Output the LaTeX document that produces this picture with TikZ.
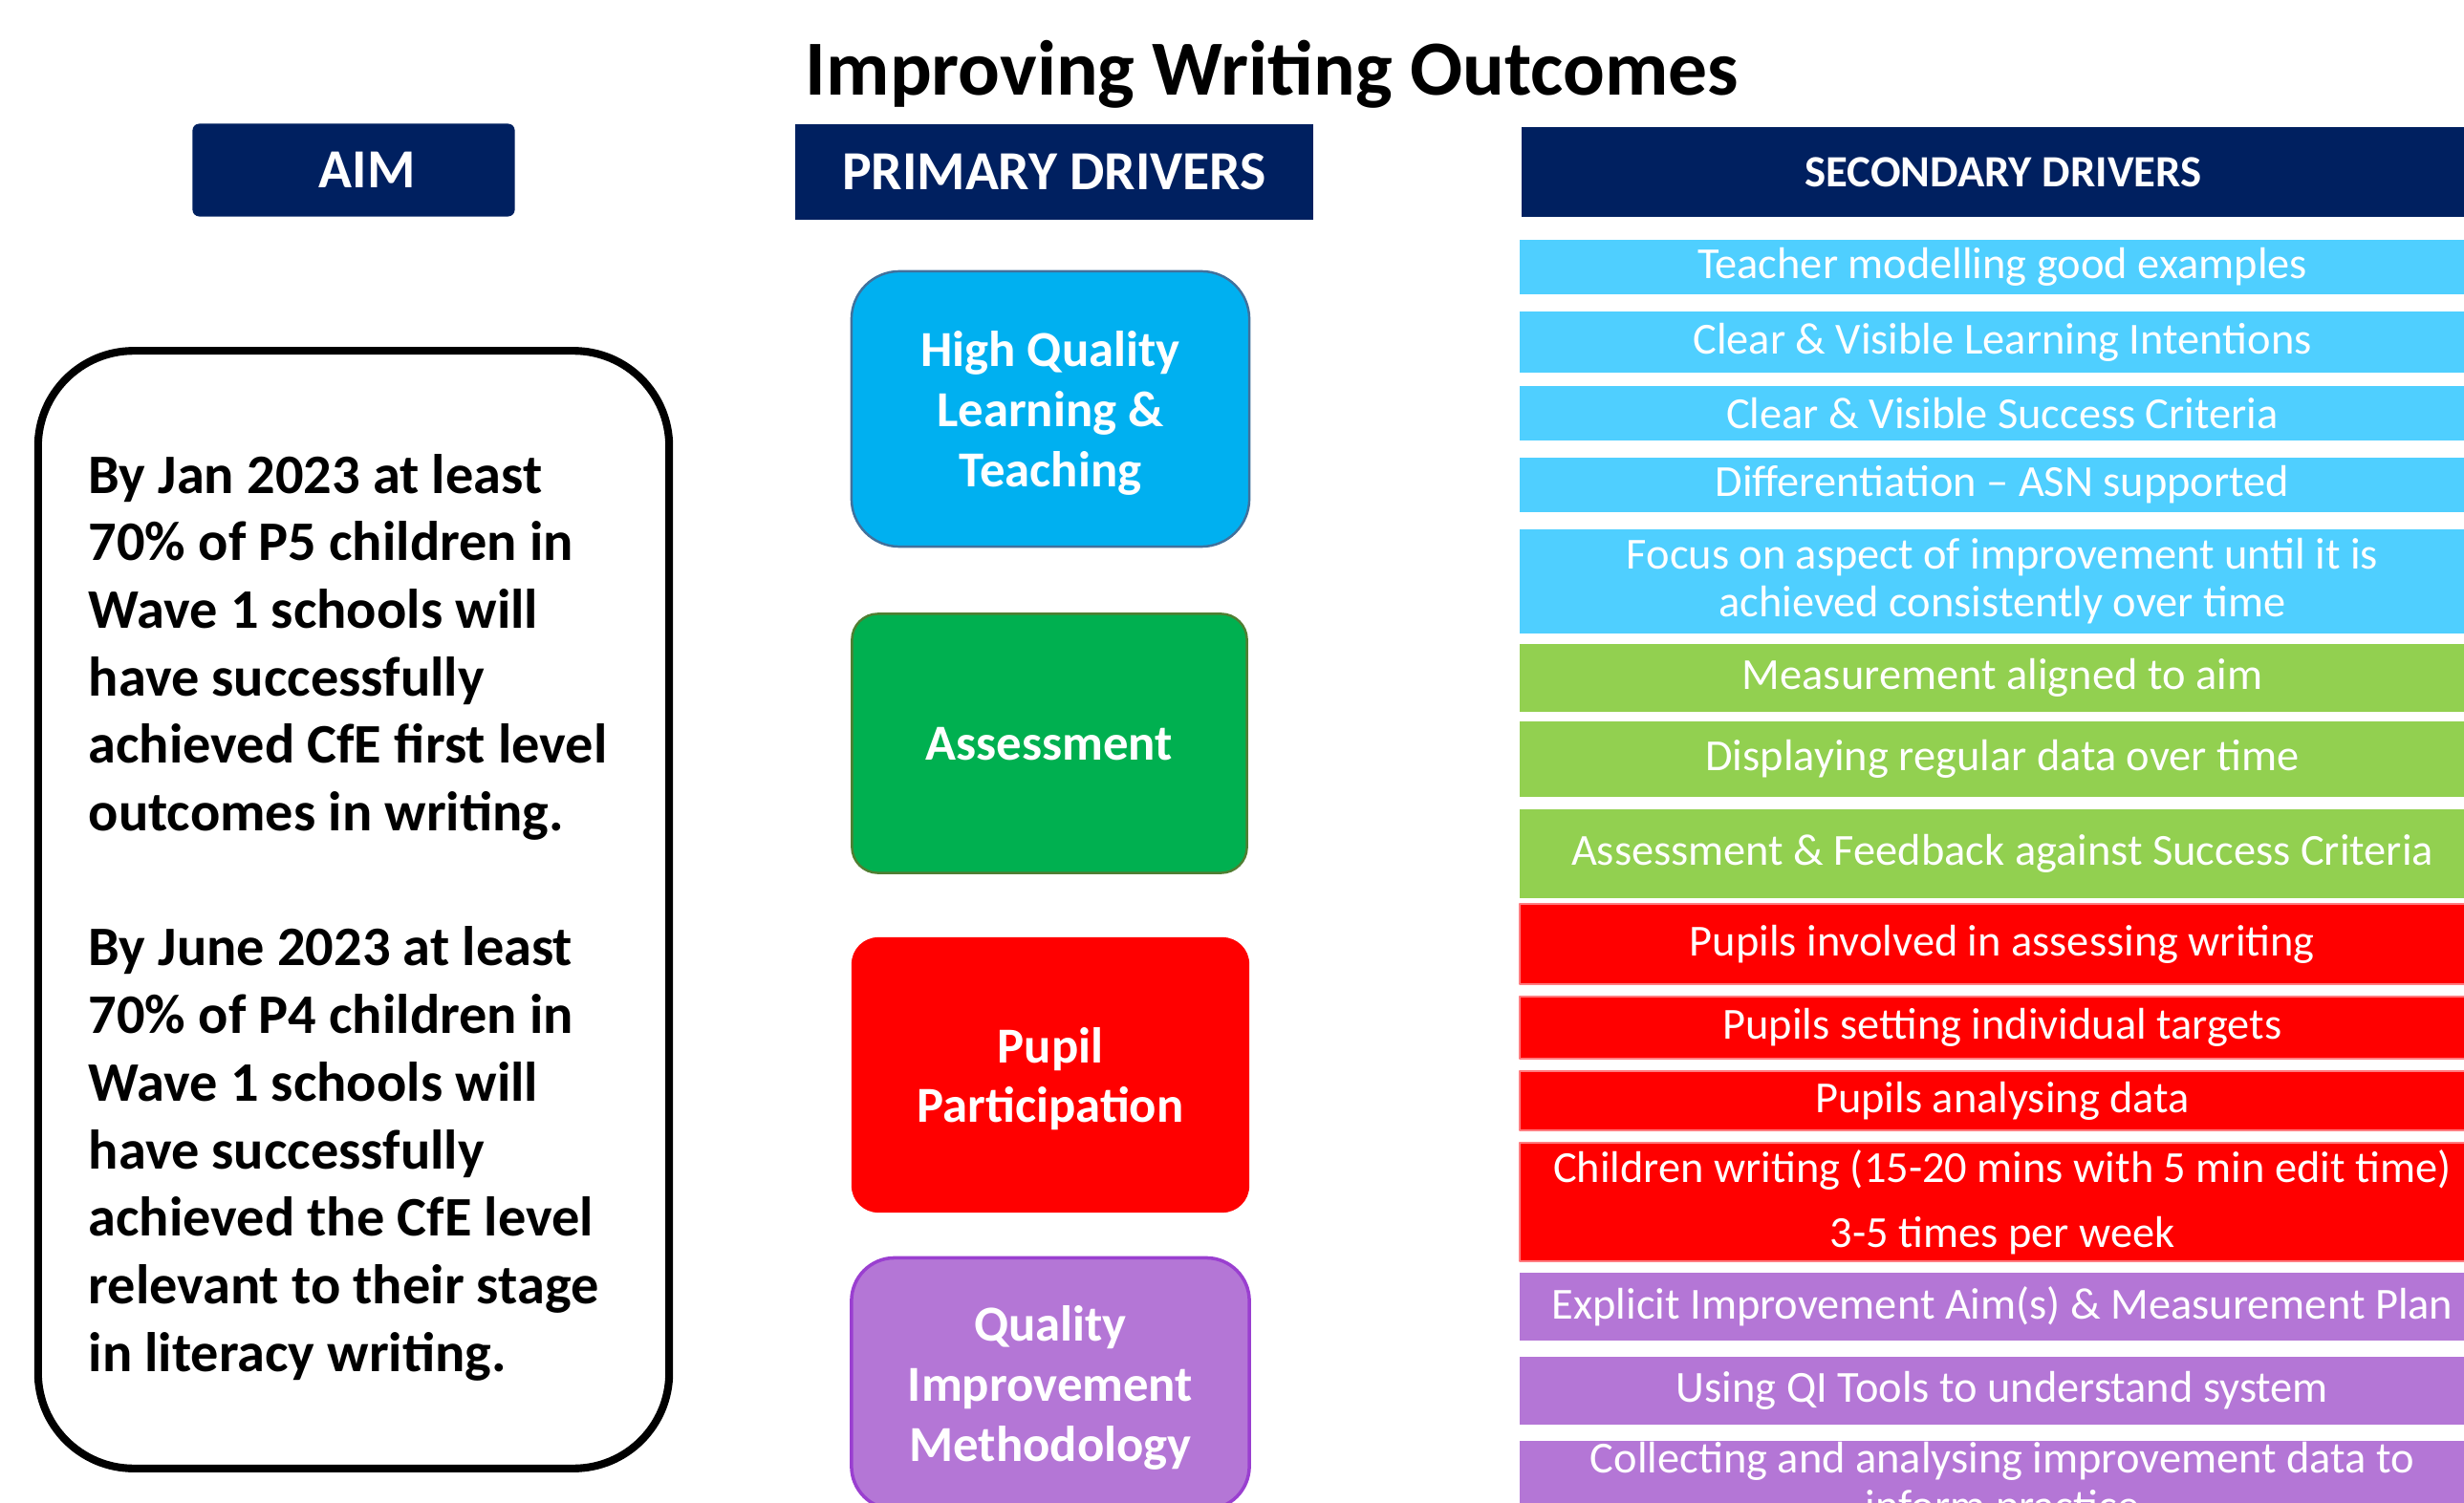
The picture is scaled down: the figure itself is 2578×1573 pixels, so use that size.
\documentclass[tikz,border=0pt]{standalone}
\usepackage{fontspec}
\setmainfont{Carlito}
\definecolor{hdrnavy}{HTML}{002060}
\definecolor{pblue}{HTML}{00B0F0}
\definecolor{pgreen}{HTML}{00B050}
\definecolor{pred}{HTML}{FF0000}
\definecolor{ppurple}{HTML}{B476D6}
\definecolor{sblue}{HTML}{4FCFFF}
\definecolor{sgreen}{HTML}{92D050}
\definecolor{hqedge}{HTML}{41719C}
\definecolor{asedge}{HTML}{507E32}
\definecolor{qiedge}{HTML}{9A3FD0}
\definecolor{redge}{HTML}{FF7C80}
\begin{document}
\begin{tikzpicture}[x=0.01cm, y=-0.01cm, line join=round,
	header/.style={fill=hdrnavy, text=white, inner sep=0pt, font=\fontsize{16.4}{19}\selectfont\bfseries},
	driver/.style={text=white, align=center, inner sep=0pt, text depth=0pt, minimum width=4.16cm, font=\fontsize{15}{17.9}\selectfont\bfseries},
	subdriver/.style={text=white, align=center, inner sep=0pt, minimum width=10.1cm, font=\fontsize{13.2}{14.2}\selectfont}]
	\useasboundingbox (0,0) rectangle (2578,1573);
	\node[anchor=base, font=\fontsize{23.2}{28}\selectfont\bfseries] (title) at (1331,100) {Improving Writing Outcomes};
	\node[header, rounded corners=2pt, minimum width=3.37cm, minimum height=0.97cm] (aimhdr) at (370,178) {\hspace{8pt}AIM};
	\node[header, minimum width=5.42cm, minimum height=1cm] (prihdr) at (1103,180) {PRIMARY DRIVERS};
	\node[header, minimum width=10.07cm, minimum height=0.94cm, font=\fontsize{13.3}{16}\selectfont\bfseries] (sechdr) at (2096,180) {SECONDARY DRIVERS};
	\node[draw, line width=2.3pt, rounded corners=1cm, minimum width=6.6cm, minimum height=11.69cm] (aimbox) at (370,952) {};
	\node[anchor=north west, align=left, inner sep=0pt, font=\fontsize{16.6}{20.1}\selectfont\bfseries] (aimtext) at (92,466)
		{\strut By Jan 2023 at least\\70\% of P5 children in\\Wave 1 schools will\\have successfully\\achieved CfE first level\\outcomes in writing.\\[20.1pt]
		By June 2023 at least\\70\% of P4 children in\\Wave 1 schools will\\have successfully\\achieved the CfE level\\relevant to their stage\\in literacy writing.};
	\node[driver, fill=pblue, draw=hqedge, line width=0.7pt, rounded corners=0.5cm, minimum height=2.88cm] (hqlt) at (1099,428) {High Quality\\Learning \&\\Teaching};
	\node[driver, fill=pgreen, draw=asedge, line width=0.7pt, rounded corners=0.27cm, minimum width=4.13cm, minimum height=2.71cm] (assess) at (1098,778) {Assessment};
	\node[driver, fill=pred, rounded corners=0.28cm, minimum height=2.88cm] (pupil) at (1099,1125) {Pupil\\Participation};
	\node[driver, fill=ppurple, draw=qiedge, line width=1pt, rounded corners=0.45cm, minimum height=2.63cm] (qim) at (1099,1448) {Quality\\Improvement\\Methodology};
	\foreach \ya/\yb/\clr/\lc/\txt [count=\i] in {
		251/308/sblue/none/Teacher modelling good examples,
		326/390/sblue/none/Clear \& Visible Learning Intentions,
		404/461/sblue/none/Clear \& Visible Success Criteria,
		479/536/sblue/none/Differentiation – ASN supported,
		554/663/sblue/none/{Focus on aspect of improvement until it is\\achieved consistently over time},
		674/745/sgreen/none/Measurement aligned to aim,
		755/834/sgreen/none/Displaying regular data over time,
		847/940/sgreen/none/Assessment \& Feedback against Success Criteria,
		946/1030/pred/redge/Pupils involved in assessing writing,
		1043/1108/pred/redge/Pupils setting individual targets,
		1121/1183/pred/redge/Pupils analysing data,
		1196/1320/pred/redge/{Children writing (15-20 mins with 5 min edit time)\\[5.2pt]3-5 times per week},
		1332/1403/ppurple/none/Explicit Improvement Aim(s) \& Measurement Plan,
		1420/1491/ppurple/none/Using QI Tools to understand system,
		1508/1600/ppurple/none/{Collecting and analysing improvement data to\\inform practice}}
		\node[subdriver, fill=\clr, draw=\lc, line width=0.6pt, minimum height={(\yb-\ya)*0.01cm}] (sub\i) at (2095,{(\ya+\yb)/2}) {\txt};
\end{tikzpicture}
\end{document}
